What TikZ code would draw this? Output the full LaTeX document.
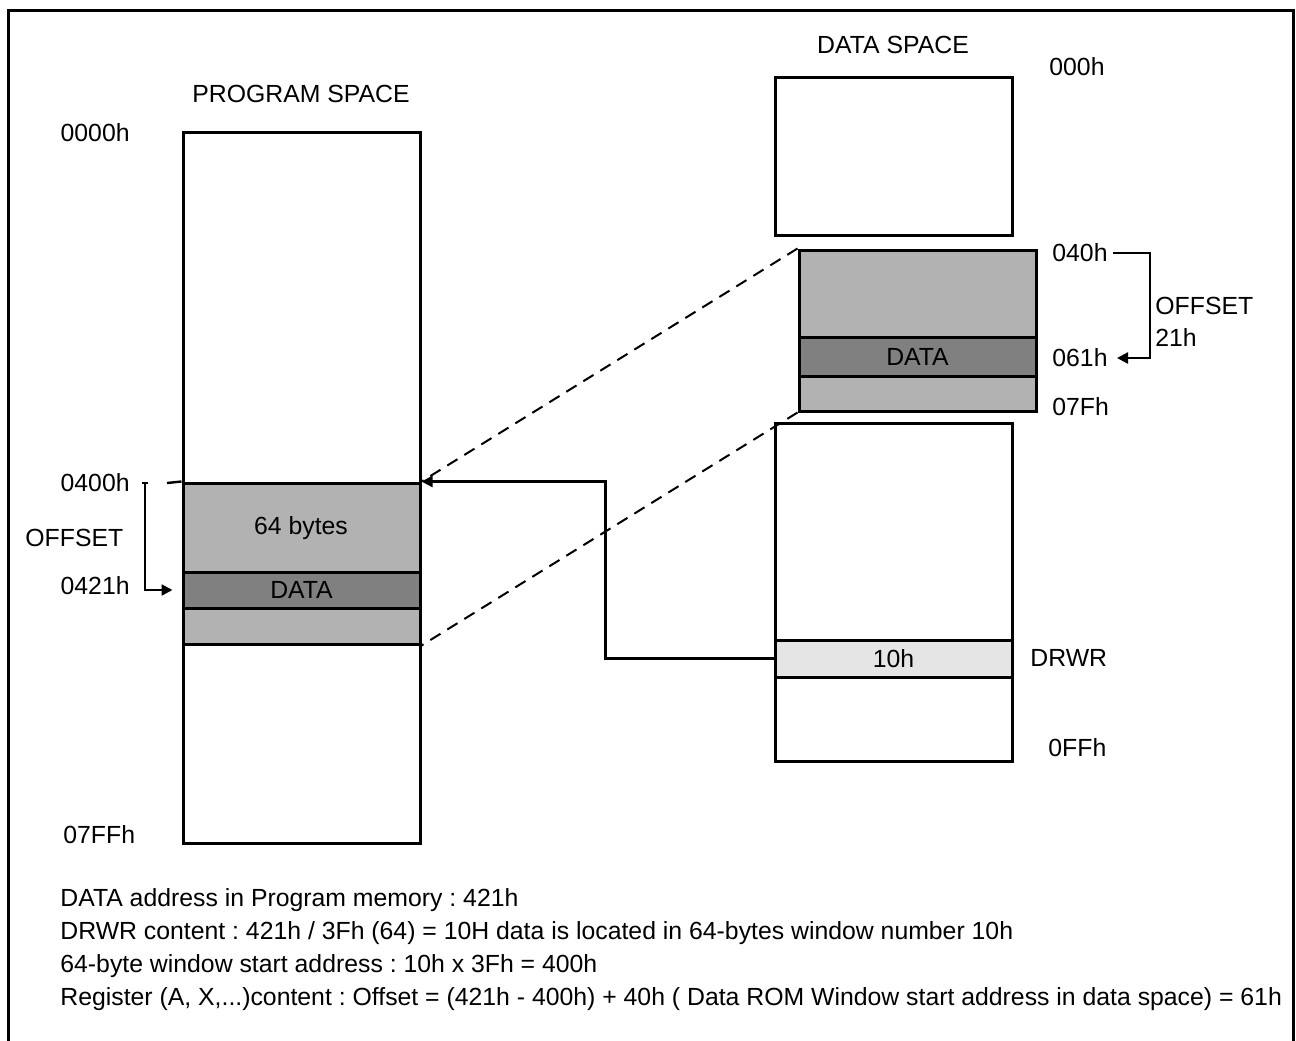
\documentclass[tikz,border=0pt]{standalone}
\usepackage{fontspec}
\setmainfont{Liberation Sans}
\usetikzlibrary{arrows.meta}
\frenchspacing
\begin{document}
\begin{tikzpicture}[x=0.5pt, y=-0.5pt,
    every node/.style={font=\fontsize{12.4}{14}\selectfont},
    mem/.style={draw, line width=1.5pt, inner sep=0pt, minimum width=118.5pt},
    lbl/.style={inner sep=0pt},
    arrow/.style={-{Triangle[length=5.5pt,width=5.5pt]}, line width=1.2pt},
    link/.style={dashed, dash pattern=on 6pt off 4pt, line width=1pt}
]
\useasboundingbox (0,0) rectangle (1296,1040);
\draw[line width=1.5pt] (8,1060) -- (8,10) -- (1293,10) -- (1293,1060);

% program space
\node[mem, minimum height=355.5pt] at (301.5,487.5) (prog) {};
\node[mem, fill=black!30, minimum height=80.5pt] at (301.5,563.5) (pwin) {};
\node[mem, fill=black!50, minimum height=18pt] at (301.5,590) (pdata) {DATA};
\node at (301,528) (pbytes) {64 bytes};
\node at (301,94) (ptitle) {PROGRAM SPACE};
\node[lbl, anchor=east] at (130,133) (a0000) {0000h};
\node[lbl, anchor=east] at (130,483) (a0400) {0400h};
\node[lbl, anchor=east] at (130,586) (a0421) {0421h};
\node[lbl, anchor=west] at (25,538) (poff) {OFFSET};
\node[lbl, anchor=west] at (63,835) (a07ff) {07FFh};

% data space
\node[mem, minimum height=79pt] at (893.5,156) (dtop) {};
\node[mem, fill=black!30, minimum height=80.5pt] at (917.5,330.5) (dwin) {};
\node[mem, fill=black!50, minimum height=19.5pt] at (917.5,356.5) (ddata) {DATA};
\node[mem, minimum height=169pt] at (893.5,592) (dlow) {};
\node[mem, fill=black!10, minimum height=18.5pt] at (893.5,658.5) (drwr) {10h};
\node at (893,45) (dtitle) {DATA SPACE};
\node[lbl, anchor=west] at (1049,67) (d000) {000h};
\node[lbl, anchor=west] at (1052,253) (d040) {040h};
\node[lbl, anchor=west] at (1052,358) (d061) {061h};
\node[lbl, anchor=west] at (1052,407) (d07f) {07Fh};
\node[lbl, anchor=west] at (1155,306) (doff) {OFFSET};
\node[lbl, anchor=west] at (1155,338) (d21) {21h};
\node[lbl, anchor=west] at (1030,658) (drwrlbl) {DRWR};
\node[lbl, anchor=west] at (1048,748) (d0ff) {0FFh};

% notes
\node[lbl, anchor=base west] at (60,906) (note1) {DATA address in Program memory : 421h};
\node[lbl, anchor=base west] at (60,939) (note2) {DRWR content : 421h / 3Fh (64) = 10H data is located in 64-bytes window number 10h};
\node[lbl, anchor=base west] at (60,972) (note3) {64-byte window start address : 10h x 3Fh = 400h};
\node[lbl, anchor=base west] at (60,1005) (note4) {Register (A, X,...)content : Offset = (421h - 400h) + 40h ( Data ROM Window start address in data space) = 61h};

% connectors
\coordinate (ltick) at (145,483);
\coordinate (lstub) at (167,483);
\coordinate (rtop) at (1113,253);
\coordinate (rbot) at (1117,358);
\draw[link] (dwin.north west) -- (pwin.north east);
\draw[link] (dwin.south west) -- (pwin.south east);
\draw[arrow] (drwr.west) -- ++(-168,0) |- (pwin.north east);
\draw[line width=1.2pt] (lstub) -- (pwin.north west);
\draw[line width=1.2pt] ([xshift=-1.5pt]ltick) -- ([xshift=1.5pt]ltick);
\draw[arrow] (ltick) |- ([xshift=-4.5pt]pdata.west);
\draw[arrow] (rtop) -- (1150,253) -- (1150,358) -- (rbot);
\end{tikzpicture}
\end{document}
